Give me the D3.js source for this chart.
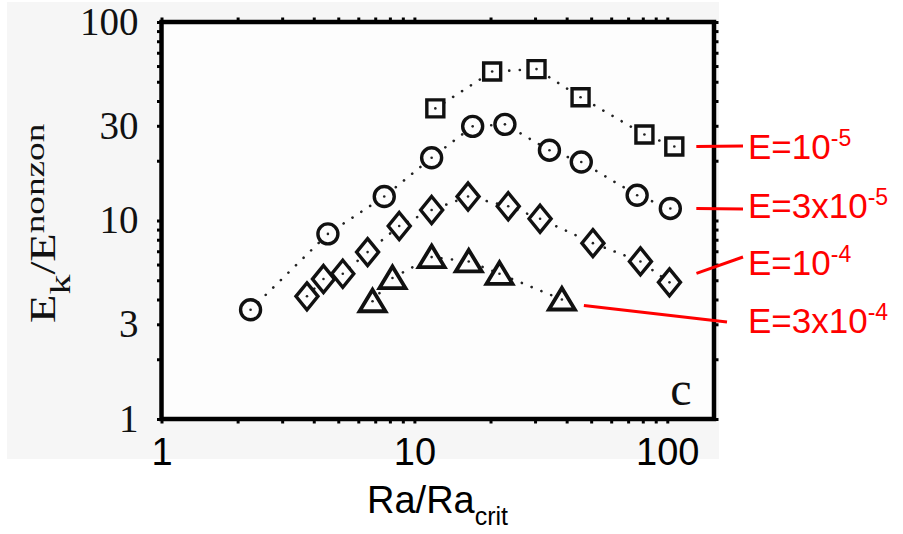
<!DOCTYPE html>
<html>
<head>
<meta charset="utf-8">
<script src="https://cdn.jsdelivr.net/npm/d3@7"></script>
<style>
  body { margin: 0; background: #fff; }
</style>
</head>
<body>
<div id="chart"></div>
<script>
// Ra/Ra_crit and E_k/E^nonzon, one pair of arrays per Ekman number
const raE1e5 = [12.1, 20.3, 30.4, 45.4, 81.2, 106.6];
const ekE1e5 = [36.7, 56.3, 57.9, 41.8, 27.1, 23.6];

const raE3e5 = [2.25, 4.55, 7.6, 11.7, 17.0, 22.8, 34.2, 45.7, 76, 102.8];
const ekE3e5 = [3.55, 8.56, 13.2, 20.7, 29.8, 30.5, 22.6, 19.7, 13.4, 11.5];

const raE1e4 = [3.76, 4.37, 5.21, 6.53, 8.71, 11.7, 16.3, 23.5, 31.4, 50.8, 78.3, 102];
const ekE1e4 = [4.15, 5.07, 5.39, 6.93, 9.38, 11.3, 13.2, 11.8, 10.2, 7.69, 6.22, 4.88];

const raE3e4 = [6.83, 8.19, 11.7, 16.4, 21.7, 38.3];
const ekE3e4 = [3.92, 5.13, 6.54, 6.22, 5.39, 4.0];

const xTickLabels = [1, 10, 100];
const yTickLabels = [1, 3, 10, 30, 100];
const minorTicks = [1, 2, 3, 4, 5, 6, 7, 8, 9, 10, 20, 30, 40, 50, 60, 70, 80, 90, 100];

const width = 903;
const height = 534;
const margin = { top: 22, right: 189, bottom: 115, left: 161.5 };

const svg = d3.select("#chart")
  .append("svg")
  .attr("width", width)
  .attr("height", height);

// scanned-figure backdrop
svg.append("rect")
  .attr("x", 7).attr("y", 2)
  .attr("width", 712).attr("height", 457)
  .attr("fill", "#f6f6f6");

const x = d3.scaleLog()
  .domain([1, 153])
  .range([margin.left, width - margin.right]);

const y = d3.scaleLog()
  .domain([1, 100])
  .range([height - margin.bottom, margin.top]);

const x0 = x.range()[0], x1 = x.range()[1];
const y0 = y.range()[1], y1 = y.range()[0];

svg.append("rect")
  .attr("x", x0).attr("y", y0)
  .attr("width", x1 - x0).attr("height", y1 - y0)
  .attr("fill", "#fdfdfd");

// small outward ticks on all four sides
const tickAxes = [
  [d3.axisLeft(y), `translate(${x0},0)`],
  [d3.axisRight(y), `translate(${x1},0)`],
  [d3.axisBottom(x), `translate(0,${y1})`],
  [d3.axisTop(x), `translate(0,${y0})`]
];
tickAxes.forEach(([ax, tr]) => {
  const g = svg.append("g")
    .attr("transform", tr)
    .call(ax.tickValues(minorTicks).tickSize(4.5).tickFormat(""));
  g.select(".domain").remove();
  g.selectAll("line").attr("stroke", "#000").attr("stroke-width", 3);
});

svg.append("rect")
  .attr("x", x0).attr("y", y0)
  .attr("width", x1 - x0).attr("height", y1 - y0)
  .attr("fill", "none")
  .attr("stroke", "#000")
  .attr("stroke-width", 4.5);

// tick labels
const yLab = svg.append("g")
  .attr("transform", `translate(${x0},0)`)
  .call(d3.axisLeft(y).tickValues(yTickLabels).tickSize(0).tickPadding(23).tickFormat(d3.format("d")));
yLab.select(".domain").remove();
yLab.selectAll("text")
  .attr("font-family", "'Liberation Serif', 'Times New Roman', serif")
  .attr("font-size", 39)
  .attr("fill", "#111");

const xLab = svg.append("g")
  .attr("transform", `translate(0,${y1})`)
  .call(d3.axisBottom(x).tickValues(xTickLabels).tickSize(0).tickPadding(19).tickFormat(d3.format("d")));
xLab.select(".domain").remove();
xLab.selectAll("text")
  .attr("font-family", "'Liberation Sans', Arial, sans-serif")
  .attr("font-size", 38)
  .attr("fill", "#000");

// axis titles
const xt = svg.append("text")
  .attr("x", 367).attr("y", 513)
  .attr("font-family", "'Liberation Sans', Arial, sans-serif")
  .attr("font-size", 38);
xt.append("tspan").text("Ra/Ra");
xt.append("tspan").attr("font-size", 25).attr("dy", 12).text("crit");

const yt = svg.append("text")
  .attr("transform", "translate(55,323) rotate(-90) scale(1.33,1)")
  .attr("font-family", "'Liberation Serif', 'Times New Roman', serif")
  .attr("font-size", 35)
  .attr("fill", "#111");
yt.append("tspan").text("E");
yt.append("tspan").attr("font-size", 30).attr("dy", 15).text("k");
yt.append("tspan").attr("dy", -15).text("/E");
yt.append("tspan").attr("font-size", 28).attr("dy", -11).text("nonzon");

svg.append("text")
  .attr("x", x1 - 33).attr("y", y1 - 14)
  .attr("text-anchor", "middle")
  .attr("font-family", "'Liberation Serif', 'Times New Roman', serif")
  .attr("font-size", 48)
  .attr("fill", "#111")
  .text("c");

// marker shapes
const shapes = {
  square: "M-8.5,-8.5H8.5V8.5H-8.5Z",
  circle: "M10,0A10,10 0 1,1 -10,0A10,10 0 1,1 10,0Z",
  diamond: "M0,-13.5L11,0L0,13.5L-11,0Z",
  triangle: "M0,-11.5L13,10L-13,10Z"
};

const series = [
  { ra: raE1e5, ek: ekE1e5, shape: "square", sw: 3.4 },
  { ra: raE3e5, ek: ekE3e5, shape: "circle", sw: 3.4 },
  { ra: raE1e4, ek: ekE1e4, shape: "diamond", sw: 3.4 },
  { ra: raE3e4, ek: ekE3e4, shape: "triangle", sw: 3.8 }
];

const line = d3.line()
  .x(d => x(d[0]))
  .y(d => y(d[1]));

series.forEach(s => {
  const pts = s.ra.map((r, i) => [r, s.ek[i]]);
  svg.append("path")
    .datum(pts)
    .attr("d", line)
    .attr("fill", "none")
    .attr("stroke", "#222")
    .attr("stroke-width", 2.6)
    .attr("stroke-linecap", "round")
    .attr("stroke-dasharray", "0.1,10.5");

  const g = svg.append("g");
  g.selectAll("path")
    .data(pts)
    .join("path")
    .attr("transform", d => `translate(${x(d[0])},${y(d[1])})`)
    .attr("d", shapes[s.shape])
    .attr("fill", "#fdfdfd")
    .attr("stroke", "#111")
    .attr("stroke-width", s.sw)
    .attr("stroke-linejoin", "miter");
  g.selectAll("circle")
    .data(pts)
    .join("circle")
    .attr("cx", d => x(d[0]))
    .attr("cy", d => y(d[1]))
    .attr("r", 1.3)
    .attr("fill", "#222");
});

// red labels for each series
const labels = [
  { base: "E=10", exp: "-5", ra: raE1e5, ek: ekE1e5, gap: 22, end: [743, 146], ty: 159 },
  { base: "E=3x10", exp: "-5", ra: raE3e5, ek: ekE3e5, gap: 26, end: [743, 209], ty: 218 },
  { base: "E=10", exp: "-4", ra: raE1e4, ek: ekE1e4, gap: 27, end: [743, 257], ty: 275 },
  { base: "E=3x10", exp: "-4", ra: raE3e4, ek: ekE3e4, gap: 22, end: [727, 322], ty: 333 }
];

labels.forEach((l, i) => {
  const n = l.ra.length - 1;
  const sx = x(l.ra[n]) + l.gap;
  const sy = i === 2 ? y(l.ek[n]) - 9 : y(l.ek[n]) + (i === 3 ? 6 : 0);
  svg.append("line")
    .attr("x1", sx).attr("y1", sy)
    .attr("x2", l.end[0]).attr("y2", l.end[1])
    .attr("stroke", "#ff0000")
    .attr("stroke-width", 3);
  const t = svg.append("text")
    .attr("x", 748).attr("y", l.ty)
    .attr("font-family", "'Liberation Sans', Arial, sans-serif")
    .attr("font-size", 35)
    .attr("fill", "#ff0000");
  t.append("tspan").text(l.base);
  t.append("tspan").attr("font-size", 23).attr("dy", -13).text(l.exp);
});
</script>
</body>
</html>
